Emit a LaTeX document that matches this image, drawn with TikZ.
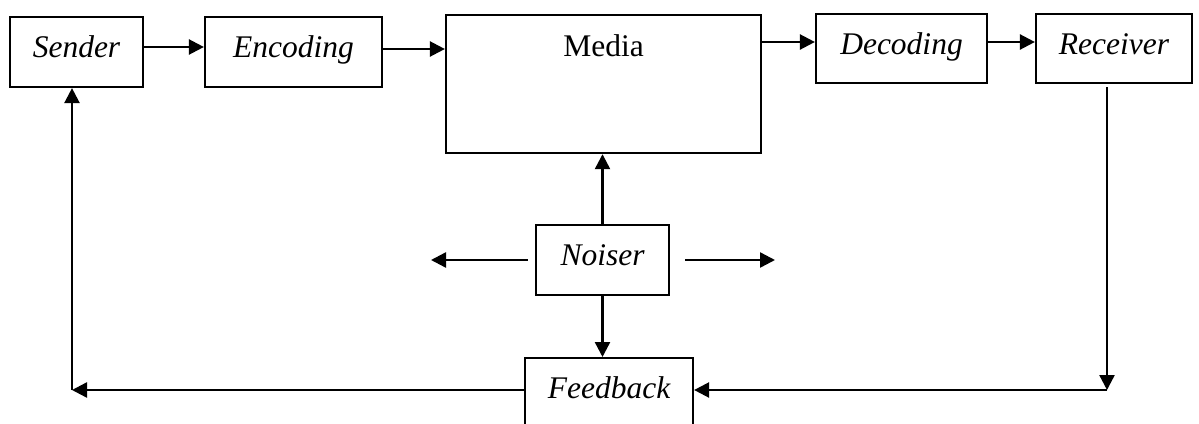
\documentclass[tikz,border=0pt]{standalone}
\usepackage{fontspec}
\setmainfont{Liberation Serif}
\usetikzlibrary{arrows.meta}
\tikzset{
  box/.style={draw, line width=2.2pt, inner sep=0pt, font=\fontsize{31.5}{36}\selectfont\itshape,
    text height=21pt, text depth=10pt},
  flow/.style={line width=2.4pt, -{Triangle[length=15pt,width=15pt]}},
}
\begin{document}
\begin{tikzpicture}[x=1pt,y=-1pt]
\useasboundingbox (0,0) rectangle (1199,423);
\clip (0,0) rectangle (1199,423);

% top row
\node[box, minimum width=133pt, minimum height=70pt] (sender) at (76.5,52) {Sender};
\node[box, minimum width=177pt, minimum height=70pt] (encoding) at (293.5,52) {Encoding};
\node[box, font=\fontsize{31.5}{36}\selectfont, minimum width=315pt, text height=41pt, text depth=97pt,
      anchor=north] (media) at (603.5,14) {Media};
\node[box, minimum width=171pt, minimum height=69pt] (decoding) at (901.5,48.5) {Decoding};
\node[box, minimum width=156pt, minimum height=69pt] (receiver) at (1114,48.5) {Receiver};

% noise source and feedback
\node[box, minimum width=133pt, minimum height=70pt] (noiser) at (602.5,260) {Noiser};
\node[box, minimum width=168pt, text height=40pt, text depth=60pt, anchor=north] (feedback) at (609,357) {Feedback};

% loop corners and free ends
\coordinate (rdrop) at (1107,87);
\coordinate (rcorner) at (1107,390);
\coordinate (lcorner) at (72,390);
\coordinate (nleft) at (431,260);
\coordinate (nright) at (775,260);

% forward chain
\draw[flow] ([yshift=5pt]sender.east) -- ([yshift=5pt]encoding.west);
\draw[flow] ([yshift=3pt]encoding.east) -- ([yshift=3pt]encoding.east -| media.west);
\draw[flow] ([yshift=6.5pt]decoding.west -| media.east) -- ([yshift=6.5pt]decoding.west);
\draw[flow] ([yshift=6.5pt]decoding.east) -- ([yshift=6.5pt]receiver.west);

% feedback loop
\draw[flow] (rdrop) -- (rcorner);
\draw[flow] (rcorner) -- (feedback.east |- rcorner);
\draw[flow] (feedback.west |- lcorner) -- (lcorner);
\draw[flow] (lcorner) -- (lcorner |- sender.south);

% noise
\draw[flow] (noiser.north) -- (media.south -| noiser.north);
\draw[flow] (noiser.south) -- (noiser.south |- feedback.north);
\draw[flow] ([xshift=-7pt]noiser.west) -- (nleft);
\draw[flow] ([xshift=15pt]noiser.east) -- (nright);
\end{tikzpicture}
\end{document}
